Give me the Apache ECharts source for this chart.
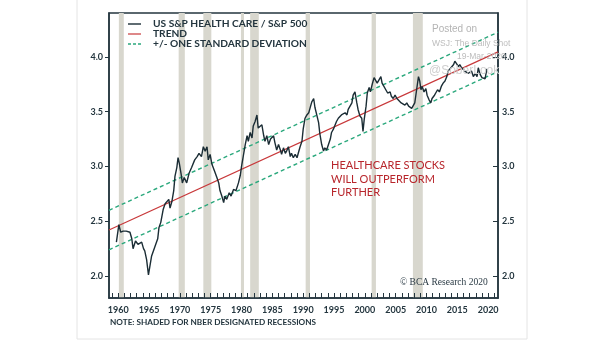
<!DOCTYPE html>
<html><head><meta charset="utf-8">
<script src="https://cdn.jsdelivr.net/npm/echarts@6/dist/echarts.min.js"></script>
<style>html,body{margin:0;padding:0;background:#fff}#c{width:605px;height:341px}</style>
</head><body><div id="c"></div>
<script>
const years = [1959.7,1960.1,1960.4,1960.8,1961.3,1961.9,1962.2,1962.4,1962.8,1963.2,1963.8,1964.1,1964.3,1964.6,1964.9,1965.1,1965.4,1965.9,1966.4,1966.6,1966.9,1967.3,1967.6,1967.9,1968.2,1968.4,1968.7,1969.0,1969.2,1969.5,1969.7,1969.9,1970.2,1970.4,1970.7,1971.1,1971.5,1971.9,1972.4,1972.8,1973.1,1973.5,1973.8,1974.1,1974.4,1974.6,1974.9,1975.2,1975.6,1976.0,1976.3,1976.5,1976.8,1977.1,1977.3,1977.6,1978.0,1978.3,1978.7,1979.1,1979.5,1979.8,1980.0,1980.3,1980.6,1980.9,1981.1,1981.4,1981.7,1981.9,1982.2,1982.5,1982.7,1983.0,1983.3,1983.6,1983.8,1984.1,1984.4,1984.7,1985.2,1985.4,1985.7,1986.0,1986.3,1986.5,1986.8,1987.1,1987.3,1987.6,1987.9,1988.1,1988.4,1988.7,1989.0,1989.2,1989.5,1989.8,1990.0,1990.3,1990.6,1990.9,1991.1,1991.4,1991.7,1991.9,1992.2,1992.5,1992.7,1993.0,1993.3,1993.5,1993.8,1994.1,1994.4,1994.6,1994.9,1995.2,1995.4,1995.7,1996.0,1996.2,1996.5,1996.8,1997.1,1997.3,1997.6,1997.9,1998.1,1998.4,1998.7,1998.9,1999.2,1999.5,1999.7,1999.9,2000.2,2000.4,2000.7,2000.9,2001.2,2001.5,2001.8,2002.0,2002.3,2002.6,2002.8,2003.1,2003.4,2003.7,2004.1,2004.3,2004.6,2004.9,2005.2,2005.5,2005.9,2006.2,2006.5,2006.8,2007.1,2007.3,2007.6,2007.9,2008.1,2008.4,2008.7,2008.9,2009.1,2009.3,2009.6,2009.9,2010.1,2010.4,2010.7,2010.9,2011.3,2011.5,2011.8,2012.1,2012.4,2012.7,2013.0,2013.3,2013.5,2013.8,2014.1,2014.4,2014.6,2014.9,2015.2,2015.4,2015.7,2016.0,2016.2,2016.5,2016.8,2017.1,2017.3,2017.6,2017.9,2018.2,2018.4,2018.7,2019.0,2019.2,2019.5,2019.8];
const ratio = [2.31,2.47,2.40,2.41,2.41,2.40,2.34,2.25,2.32,2.29,2.31,2.25,2.23,2.15,2.01,2.02,2.18,2.26,2.34,2.44,2.49,2.61,2.66,2.65,2.70,2.62,2.68,2.78,2.91,2.99,3.08,3.03,2.93,2.85,2.90,2.85,2.94,2.99,3.06,3.09,3.12,3.09,3.18,3.14,3.18,3.06,3.11,3.02,2.96,2.90,2.85,2.78,2.73,2.67,2.73,2.70,2.76,2.73,2.79,2.78,2.85,2.92,3.00,3.10,3.20,3.28,3.23,3.31,3.26,3.37,3.41,3.47,3.35,3.34,3.38,3.28,3.23,3.28,3.20,3.25,3.28,3.22,3.15,3.20,3.15,3.11,3.17,3.12,3.14,3.18,3.09,3.12,3.08,3.11,3.08,3.12,3.18,3.23,3.34,3.44,3.47,3.49,3.53,3.59,3.62,3.54,3.47,3.40,3.30,3.20,3.14,3.17,3.15,3.20,3.25,3.31,3.34,3.35,3.41,3.44,3.43,3.47,3.46,3.49,3.47,3.52,3.55,3.58,3.65,3.68,3.58,3.52,3.46,3.44,3.32,3.43,3.55,3.67,3.72,3.68,3.75,3.81,3.78,3.76,3.79,3.82,3.76,3.75,3.70,3.67,3.68,3.64,3.62,3.65,3.62,3.61,3.58,3.59,3.56,3.58,3.55,3.56,3.53,3.52,3.58,3.70,3.82,3.78,3.70,3.73,3.68,3.71,3.65,3.61,3.58,3.62,3.65,3.67,3.70,3.68,3.73,3.76,3.78,3.82,3.87,3.88,3.91,3.93,3.96,3.97,3.91,3.93,3.90,3.91,3.87,3.88,3.85,3.84,3.87,3.82,3.85,3.82,3.90,3.84,3.81,3.82,3.80,3.89];
const trendYears = [1958.5, 2021.6];
const trendValues = [2.42, 4.045];
const upperValues = [2.60, 4.225];
const lowerValues = [2.24, 3.865];
const recessions = [[1960.1,1960.9],[1969.8,1970.8],[1973.8,1975.1],[1979.9,1980.4],[1981.4,1982.8],[1990.4,1991.1],[2001.1,2001.8],[2007.8,2009.4]];
const yTicks = [2.0, 2.5, 3.0, 3.5, 4.0];
const xLabelYears = [1960,1965,1970,1975,1980,1985,1990,1995,2000,2005,2010,2015,2020];
const xTickYears = []; for (let y = 1959; y <= 2021; y++) xTickYears.push(y);
const names = ['US S&P HEALTH CARE / S&P 500', 'TREND', '+/- ONE STANDARD DEVIATION'];

const axisColor = '#24363f';
const lineColor = '#1b2d35', trendColor = '#c8383a', bandColor = '#2aa87c';
const lblFont = {color: axisColor, fontFamily: 'Lato', fontWeight: 'bold', fontSize: 9};
const pair = (xs, vs) => xs.map((x, i) => [x, vs[i]]);

const chart = echarts.init(document.getElementById('c'), null, {renderer: 'canvas'});
chart.setOption({
  animation: false,
  backgroundColor: '#fff',
  grid: {left: 109, right: 107, top: 13, bottom: 43, show: true, borderColor: axisColor, borderWidth: 1.5, backgroundColor: 'transparent'},
  xAxis: {
    type: 'value', min: 1958.5, max: 2021.6,
    axisLine: {show: true, lineStyle: {color: axisColor, width: 1.5}},
    axisTick: {show: true, inside: true, length: 5, customValues: xTickYears, lineStyle: {color: axisColor, width: 1}},
    axisLabel: Object.assign({customValues: xLabelYears, margin: 8, formatter: v => String(v)}, lblFont),
    splitLine: {show: false}
  },
  yAxis: [
    {type: 'value', min: 1.8, max: 4.4, position: 'left',
     axisLine: {show: true, lineStyle: {color: axisColor, width: 1.5}},
     axisTick: {show: true, inside: false, length: 4, customValues: yTicks, lineStyle: {color: axisColor}},
     axisLabel: Object.assign({customValues: yTicks, margin: 6, formatter: v => v.toFixed(1)}, lblFont),
     splitLine: {show: false}},
    {type: 'value', min: 1.8, max: 4.4, position: 'right',
     axisLine: {show: true, lineStyle: {color: axisColor, width: 1.5}},
     axisTick: {show: true, inside: true, length: 5, customValues: yTicks, lineStyle: {color: axisColor}},
     axisLabel: Object.assign({customValues: yTicks, margin: 4, formatter: v => v.toFixed(1)}, lblFont),
     splitLine: {show: false}}
  ],
  series: [
    {name: 'recessions', type: 'custom', z: 0, silent: true, data: recessions,
     renderItem: (params, api) => {
       const p0 = api.coord([api.value(0), 4.4]);
       const p1 = api.coord([api.value(1), 1.8]);
       return {type: 'rect', shape: {x: p0[0], y: p0[1], width: p1[0] - p0[0], height: p1[1] - p0[1]}, style: {fill: '#d8d7ce'}};
     },
     encode: {x: [0, 1]}},
    {name: names[1], type: 'line', data: pair(trendYears, trendValues), symbol: 'none', z: 3,
     lineStyle: {color: trendColor, width: 1.2}},
    {name: names[2], type: 'line', data: pair(trendYears, upperValues), symbol: 'none', z: 3,
     lineStyle: {color: bandColor, width: 1.4, type: [4, 3]}},
    {name: names[2], type: 'line', data: pair(trendYears, lowerValues), symbol: 'none', z: 3,
     lineStyle: {color: bandColor, width: 1.4, type: [4, 3]}},
    {name: names[0], type: 'line', data: pair(years, ratio), symbol: 'none', z: 4,
     lineStyle: {color: lineColor, width: 1.4}}
  ],
  graphic: {elements: [
    {type: 'rect', shape: {x: 77, y: -1, width: 450, height: 340}, style: {fill: 'none', stroke: '#e4e4e4', lineWidth: 1}, z: -10, silent: true},
    {type: 'line', z: 20, shape: {x1: 128, y1: 24, x2: 141, y2: 24}, style: {stroke: lineColor, lineWidth: 1.4}},
    {type: 'line', z: 20, shape: {x1: 128, y1: 34, x2: 141, y2: 34}, style: {stroke: trendColor, lineWidth: 1.2}},
    {type: 'line', z: 20, shape: {x1: 128, y1: 44, x2: 141, y2: 44}, style: {stroke: bandColor, lineWidth: 1.4, lineDash: [3, 2]}},
    {type: 'text', z: 20, x: 153, y: 24, style: {text: names[0], fill: axisColor, font: 'bold 10.2px Lato', verticalAlign: 'middle'}},
    {type: 'text', z: 20, x: 153, y: 34, style: {text: names[1], fill: axisColor, font: 'bold 10.2px Lato', verticalAlign: 'middle'}},
    {type: 'text', z: 20, x: 153, y: 44, style: {text: names[2], fill: axisColor, font: 'bold 10.2px Lato', verticalAlign: 'middle'}},
    {type: 'text', z: 20, left: 331, top: 159, style: {text: 'HEALTHCARE STOCKS\nWILL OUTPERFORM\nFURTHER', fill: '#b8262c', font: '11px Lato', lineHeight: 13.5}},
    {type: 'text', z: 20, left: 400, top: 277, style: {text: '© BCA Research 2020', fill: '#2a3a44', font: '9.5px "Liberation Serif"'}},
    {type: 'text', z: 20, left: 110, top: 318, style: {text: 'NOTE: SHADED FOR NBER DESIGNATED RECESSIONS', fill: axisColor, font: 'bold 8.2px Lato'}},
    {type: 'text', z: 20, left: 432, top: 24, style: {text: 'Posted on', fill: '#b4b4b4', font: '10px "Liberation Sans"'}},
    {type: 'text', z: 20, left: 432, top: 39, style: {text: 'WSJ: The Daily Shot', fill: '#bdbdbd', font: '8.5px "Liberation Sans"'}},
    {type: 'text', z: 20, left: 457, top: 52, style: {text: '19-Mar-2020', fill: '#bdbdbd', font: '8.5px "Liberation Sans"'}},
    {type: 'text', z: 20, left: 429, top: 65, style: {text: '@SoberLook', fill: '#cfcfcf', font: '12px "Liberation Sans"'}}
  ]}
});
</script></body></html>
